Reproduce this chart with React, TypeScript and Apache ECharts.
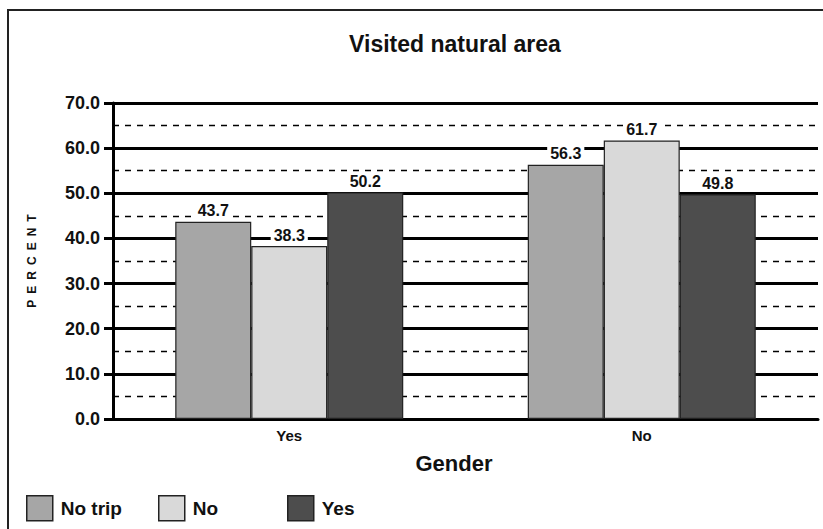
import React, { useEffect, useRef } from "react";
import * as echarts from "echarts";

const categories = ["Yes", "No"];
const seriesNames = ["No trip", "No", "Yes"];
const noTripValues = [43.7, 56.3];
const noValues = [38.3, 61.7];
const yesValues = [50.2, 49.8];
const seriesColors = ["#a6a6a6", "#d9d9d9", "#4d4d4d"];
const yTickValues = [0, 10, 20, 30, 40, 50, 60, 70];

const FONT = "'Liberation Sans', Arial, Helvetica, sans-serif";

export default function App() {
  const ref = useRef<HTMLDivElement>(null);

  useEffect(() => {
    if (!ref.current) return;
    const chart = echarts.init(ref.current, undefined, { renderer: "svg" });
    const values = [noTripValues, noValues, yesValues];
    const legendLefts = [26, 158, 287];

    const series = seriesNames.map((name, i) => ({
      name,
      type: "bar",
      data: values[i],
      barWidth: 76,
      barGap: "0%",
      itemStyle: { color: seriesColors[i], borderColor: "#222", borderWidth: 1.2 },
      label: {
        show: true,
        position: "top",
        distance: 3,
        formatter: (p: any) => Number(p.value).toFixed(1),
        fontFamily: FONT,
        fontWeight: "bold",
        fontSize: 16,
        color: "#111",
        backgroundColor: "#fff",
        padding: [1, 3, 0, 3],
      },
    }));

    const option: any = {
      animation: false,
      backgroundColor: "#fff",
      textStyle: { fontFamily: FONT },
      grid: { left: 113, right: 5, top: 103, bottom: 110, containLabel: false },
      legend: seriesNames.map((name, i) => ({
        data: [name],
        left: legendLefts[i],
        top: 495,
        padding: 0,
        icon: "rect",
        itemWidth: 26,
        itemHeight: 25,
        selectedMode: false,
        itemStyle: { borderColor: "#222", borderWidth: 1.5 },
        textStyle: {
          fontFamily: FONT,
          fontWeight: "bold",
          fontSize: 19,
          color: "#111",
          padding: [0, 0, 0, 3],
        },
      })),
      xAxis: {
        type: "category",
        data: categories,
        axisLine: { show: true, lineStyle: { color: "#000", width: 3 } },
        axisTick: { show: false },
        axisLabel: {
          fontFamily: FONT,
          fontWeight: "bold",
          fontSize: 15,
          color: "#111",
          margin: 9,
        },
      },
      yAxis: {
        type: "value",
        min: yTickValues[0],
        max: yTickValues[yTickValues.length - 1],
        interval: 10,
        axisLine: { show: true, lineStyle: { color: "#000", width: 3 } },
        axisTick: { show: true, length: 9, lineStyle: { color: "#000", width: 3 } },
        axisLabel: {
          formatter: (v: number) => v.toFixed(1),
          fontFamily: FONT,
          fontWeight: "bold",
          fontSize: 18,
          color: "#111",
          margin: 13,
        },
        splitLine: { show: true, lineStyle: { color: "#000", width: 3 } },
        minorTick: { show: false, splitNumber: 2 },
        minorSplitLine: {
          show: true,
          lineStyle: { color: "#000", width: 1.3, type: [6, 6] },
        },
      },
      graphic: [
        {
          type: "rect",
          shape: { x: 8, y: 10, width: 1000, height: 1000 },
          style: { fill: "none", stroke: "#222", lineWidth: 2 },
          silent: true,
          z: 100,
        },
        {
          type: "text",
          x: 455,
          y: 44,
          style: {
            text: "Visited natural area",
            fontFamily: FONT,
            fontWeight: "bold",
            fontSize: 23,
            fill: "#111",
            textAlign: "center",
            textVerticalAlign: "middle",
          },
        },
        {
          type: "text",
          x: 454,
          y: 463,
          style: {
            text: "Gender",
            fontFamily: FONT,
            fontWeight: "bold",
            fontSize: 22,
            fill: "#111",
            textAlign: "center",
            textVerticalAlign: "middle",
          },
        },
        {
          type: "text",
          x: 32,
          y: 261,
          rotation: Math.PI / 2,
          style: {
            text: "P\u2002E\u2002R\u2002C\u2002E\u2002N\u2002T",
            fontFamily: FONT,
            fontWeight: "bold",
            fontSize: 12,
            fill: "#111",
            textAlign: "center",
            textVerticalAlign: "middle",
          },
        },
      ],
      series,
    };

    chart.setOption(option);
    return () => chart.dispose();
  }, []);

  return (
    <div
      ref={ref}
      style={{ position: "fixed", left: 0, top: 0, width: 823, height: 529, background: "#fff" }}
    />
  );
}
